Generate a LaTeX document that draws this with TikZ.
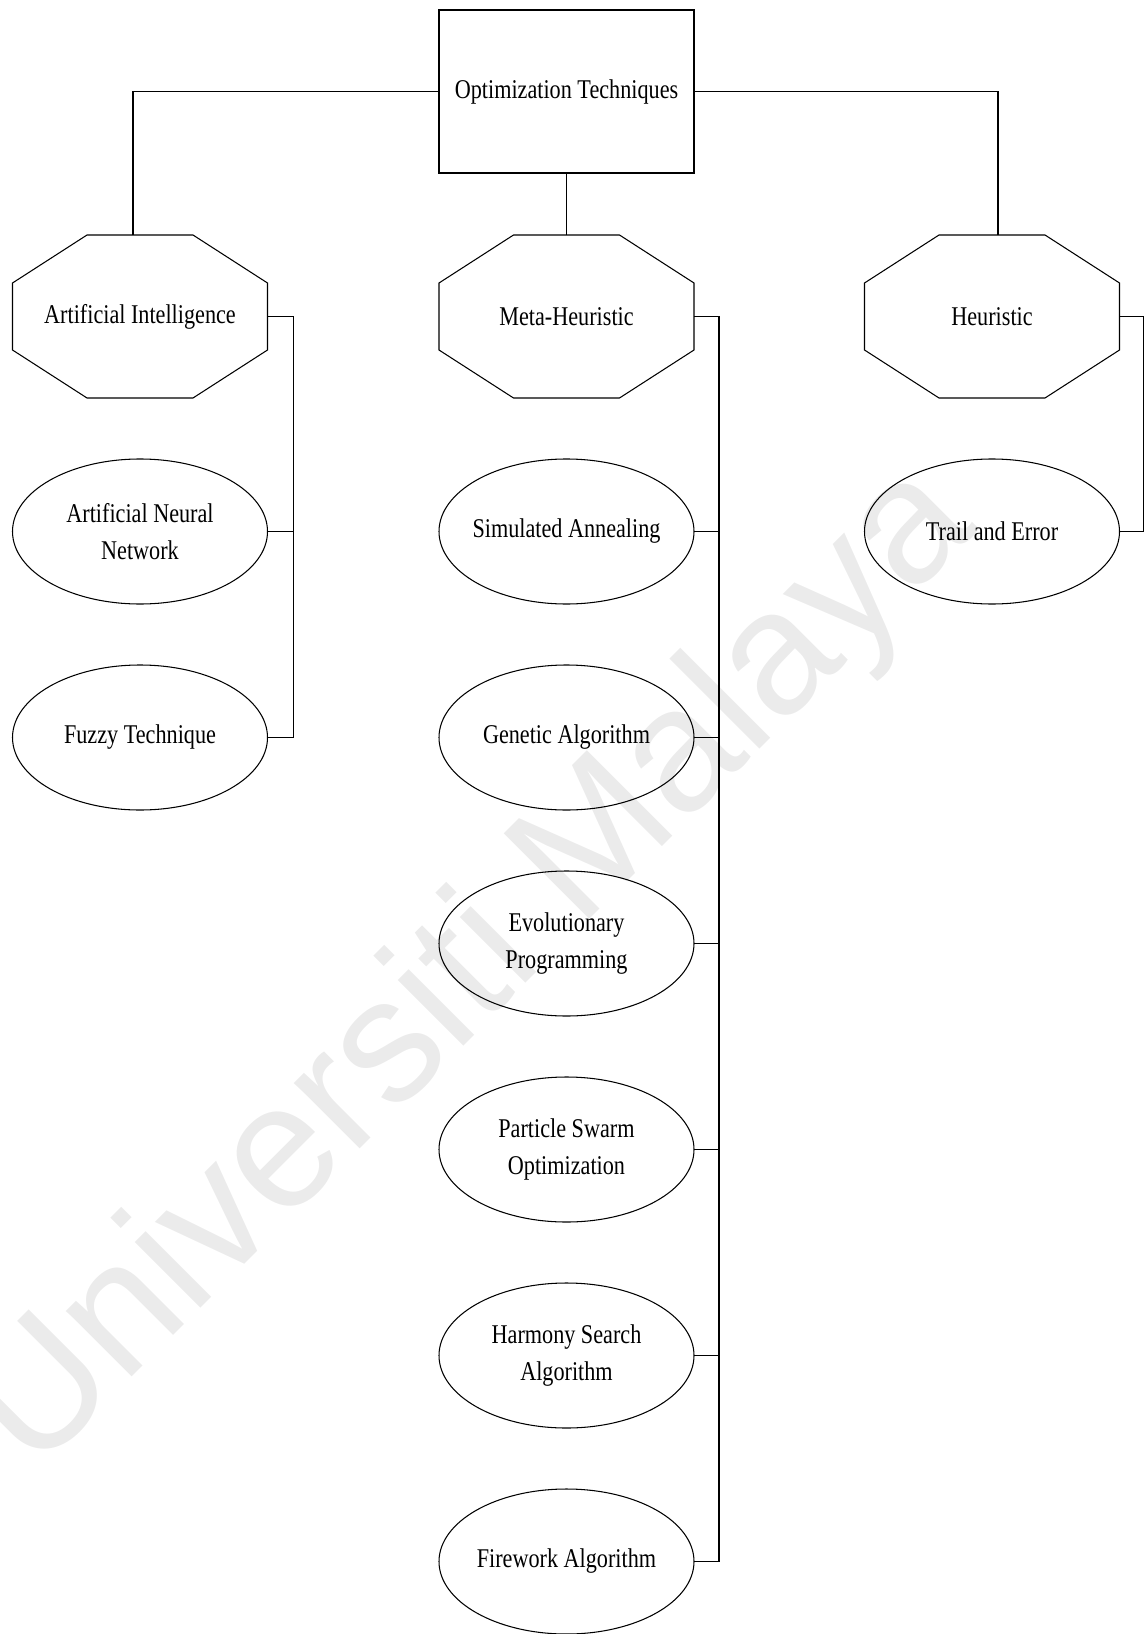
\documentclass[tikz,border=0pt]{standalone}
\usepackage{fontspec}
\setmainfont[FakeStretch=0.82]{Liberation Serif}
\newfontfamily\wmfont{Liberation Sans}
\usetikzlibrary{shapes.geometric,calc}
\begin{document}
\begin{tikzpicture}[line join=miter,line width=0.6pt]
	\tikzset{every node/.style={font=\fontsize{15.4}{20.7}\selectfont,align=center,inner sep=0pt,outer sep=0pt}}
	\tikzset{topbox/.style={draw,rectangle,minimum width=5.1cm,minimum height=3.26cm}}
	\tikzset{octa/.style={rectangle,minimum width=5.1cm,minimum height=3.26cm}}
	\tikzset{oval/.style={draw,ellipse,minimum width=5.1cm,minimum height=2.9cm,inner xsep=-0.3cm}}
	\useasboundingbox (0,0) rectangle (22.96,-32.68);
	% watermark
	\node[rotate=45,text=black!8,font=\wmfont\fontsize{100}{100}\selectfont] (wm) at (9.5,-19.4) {Universiti Malaya};
	% root and the three groups
	\node[topbox] (top) at (11.33,-1.83) {Optimization Techniques};
	\node[octa] (ai) at (2.8,-6.33) {Artificial Intelligence};
	\node[octa] (meta) at (11.33,-6.33) {Meta-Heuristic};
	\node[octa] (heur) at (19.84,-6.33) {Heuristic};
	\foreach \n in {ai,meta,heur}{
		\draw ($(\n.north west)+(1.49,0)$) -- ($(\n.north east)+(-1.49,0)$)
		-- ($(\n.north east)+(0,-0.96)$) -- ($(\n.south east)+(0,0.96)$)
		-- ($(\n.south east)+(-1.49,0)$) -- ($(\n.south west)+(1.49,0)$)
		-- ($(\n.south west)+(0,0.96)$) -- ($(\n.north west)+(0,-0.96)$) -- cycle;
	}
	% methods
	\node[oval] (ann) at (2.8,-10.63) {Artificial Neural\\Network};
	\node[oval] (fuzzy) at (2.8,-14.75) {Fuzzy Technique};
	\node[oval] (sa) at (11.33,-10.63) {Simulated Annealing};
	\node[oval] (ga) at (11.33,-14.75) {Genetic Algorithm};
	\node[oval] (ep) at (11.33,-18.87) {Evolutionary\\Programming};
	\node[oval] (pso) at (11.33,-22.99) {Particle Swarm\\Optimization};
	\node[oval] (hs) at (11.33,-27.11) {Harmony Search\\Algorithm};
	\node[oval] (fa) at (11.33,-31.23) {Firework Algorithm};
	\node[oval] (te) at (19.84,-10.63) {Trail and Error};
	% connectors
	\draw (top.west) -| ([xshift=-0.14cm]ai.north);
	\draw (top.east) -| ([xshift=0.12cm]heur.north);
	\draw (top.south) -- (meta.north);
	\draw (ai.east) -- ++(0.52,0) coordinate (aibus) |- (fuzzy.east);
	\draw (ann.east) -- (ann.east -| aibus);
	\draw (meta.east) -- ++(0.5,0) coordinate (metabus) |- (fa.east);
	\foreach \n in {sa,ga,ep,pso,hs}{
		\draw (\n.east) -- (\n.east -| metabus);
	}
	\draw (heur.east) -- ++(0.48,0) |- (te.east);
\end{tikzpicture}
\end{document}
